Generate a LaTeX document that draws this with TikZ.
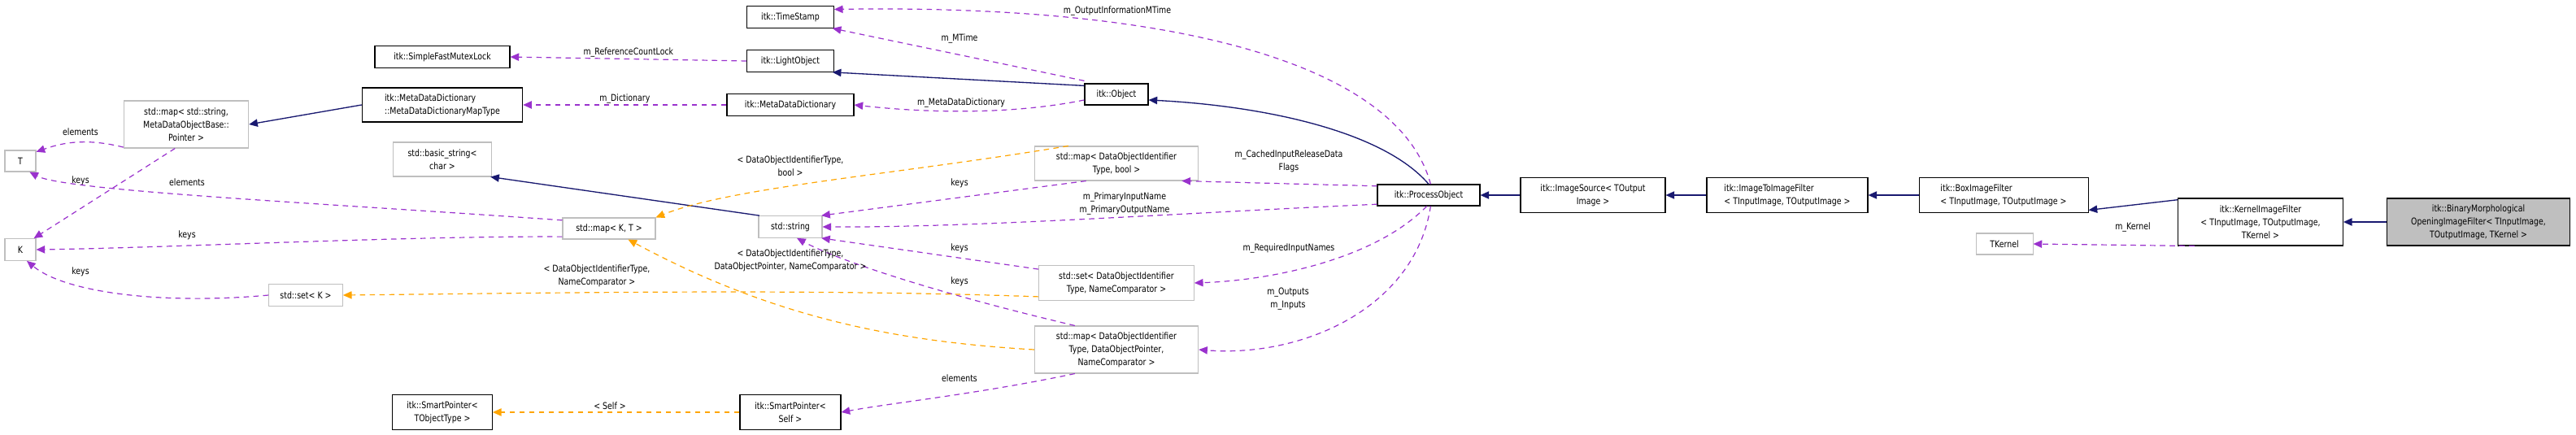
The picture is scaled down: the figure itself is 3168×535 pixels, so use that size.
\documentclass[tikz,border=0pt]{standalone}
\usepackage{fontspec}
\setmainfont{DejaVu Sans}[FakeStretch=0.82]
\usetikzlibrary{arrows.meta}
\definecolor{inhc}{HTML}{191970}
\definecolor{memc}{HTML}{9A32CD}
\definecolor{tplc}{HTML}{FFA500}
\definecolor{grayb}{HTML}{BFBFBF}
\begin{document}
\begin{tikzpicture}[x=0.75pt,y=-0.75pt,
  every node/.style={font=\fontsize{8.6}{12}\selectfont, inner sep=1pt},
  doc/.style={draw=black, line width=0.8pt, fill=white, align=center, inner sep=2pt},
  udoc/.style={draw=grayb, line width=0.8pt, fill=white, align=center, inner sep=2pt},
  inh/.style={draw=inhc, line width=1pt, -{Triangle[width=7pt,length=8pt]}},
  mem/.style={draw=memc, line width=0.9pt, dash pattern=on 5pt off 4pt, -{Triangle[width=7pt,length=8pt]}},
  tpl/.style={draw=tplc, line width=0.9pt, dash pattern=on 5pt off 4pt, -{Triangle[width=7pt,length=8pt]}},
  lbl/.style={align=center, fill=none}]
\useasboundingbox (0,0) rectangle (3168,535);
% nodes
\node[doc, minimum width=124.5pt, minimum height=20pt] (sfml) at (544,70) {itk::SimpleFastMutexLock};
\node[doc, minimum width=148pt, minimum height=31.5pt, align=left] (maptype) at (544,129) {itk::MetaDataDictionary\\::MetaDataDictionaryMapType};
\node[udoc, minimum width=115pt, minimum height=43.5pt] (mapstr) at (229,153) {std::map\textless{} std::string,\\MetaDataObjectBase::\\Pointer \textgreater{}};
\node[udoc, minimum width=28.5pt, minimum height=19.5pt] (T) at (25,198) {T};
\node[udoc, minimum width=28.5pt, minimum height=20pt] (K) at (25,307) {K};
\node[udoc, minimum width=91pt, minimum height=31.5pt] (basic) at (544,196) {std::basic\_string\textless{}\\char \textgreater{}};
\node[udoc, minimum width=85.5pt, minimum height=19.5pt] (mapKT) at (749,281) {std::map\textless{} K, T \textgreater{}};
\node[udoc, minimum width=68pt, minimum height=20pt] (setK) at (376,363) {std::set\textless{} K \textgreater{}};
\node[doc, minimum width=92pt, minimum height=32pt] (spt) at (544,507) {itk::SmartPointer\textless{}\\TObjectType \textgreater{}};
\node[doc, minimum width=80pt, minimum height=20pt] (ts) at (972,21) {itk::TimeStamp};
\node[doc, minimum width=80pt, minimum height=20pt] (light) at (972,75) {itk::LightObject};
\node[doc, minimum width=117pt, minimum height=20pt] (mdd) at (972,129) {itk::MetaDataDictionary};
\node[doc, minimum width=58.5pt, minimum height=19.5pt] (obj) at (1373,116) {itk::Object};
\node[udoc, minimum width=151pt, minimum height=31.5pt] (mapbool) at (1373,201) {std::map\textless{} DataObjectIdentifier\\Type, bool \textgreater{}};
\node[udoc, minimum width=58.5pt, minimum height=20pt] (str) at (972,279) {std::string};
\node[udoc, minimum width=143pt, minimum height=32pt] (setdoi) at (1373,348) {std::set\textless{} DataObjectIdentifier\\Type, NameComparator \textgreater{}};
\node[udoc, minimum width=151pt, minimum height=43.5pt] (mapdop) at (1373,430) {std::map\textless{} DataObjectIdentifier\\Type, DataObjectPointer,\\NameComparator \textgreater{}};
\node[doc, minimum width=93pt, minimum height=32pt] (sps) at (972,507) {itk::SmartPointer\textless{}\\Self \textgreater{}};
\node[doc, minimum width=94.5pt, minimum height=19.5pt] (po) at (1757,240) {itk::ProcessObject};
\node[doc, minimum width=133.5pt, minimum height=32pt] (is) at (1959,240) {itk::ImageSource\textless{} TOutput\\Image \textgreater{}};
\node[doc, minimum width=148.5pt, minimum height=32pt, align=left] (i2i) at (2198,240) {itk::ImageToImageFilter\\\textless{} TInputImage, TOutputImage \textgreater{}};
\node[doc, minimum width=156pt, minimum height=32pt, align=left] (box) at (2464,240) {itk::BoxImageFilter\\\textless{} TInputImage, TOutputImage \textgreater{}};
\node[doc, minimum width=152pt, minimum height=43.5pt] (kern) at (2780,273) {itk::KernelImageFilter\\\textless{} TInputImage, TOutputImage,\\TKernel \textgreater{}};
\node[draw=black, line width=0.8pt, fill=grayb, align=center, inner sep=2pt, minimum width=169pt, minimum height=43.5pt] (bin) at (3048,273) {itk::BinaryMorphological\\OpeningImageFilter\textless{} TInputImage,\\TOutputImage, TKernel \textgreater{}};
\node[udoc, minimum width=52.5pt, minimum height=19.5pt] (tk) at (2465,300) {TKernel};
% inheritance
\draw[inh] (maptype.west) -- (mapstr.east);
\draw[inh] (str.160) -- (basic.-20);
\draw[inh] (obj.165) -- (light.-15);
\draw[inh] (po.north) .. controls (1700,160) and (1550,130) .. (obj.-10);
\draw[inh] (is.west) -- (po.east);
\draw[inh] (i2i.west) -- (is.east);
\draw[inh] (box.west) -- (i2i.east);
\draw[inh] (kern.165) -- (box.-10);
\draw[inh] (bin.west) -- (kern.east);
% members
\draw[mem] (light.west) -- (sfml.east) node[lbl, pos=0.5, above] (l1) {m\_ReferenceCountLock};
\draw[mem] (mdd.west) -- (maptype.east) node[lbl, pos=0.5, above] (l2) {m\_Dictionary};
\draw[mem] (obj.-170) .. controls (1250,140) and (1150,140) .. (mdd.east);
\node[lbl] (l3) at (1182,126) {m\_MetaDataDictionary};
\draw[mem] (obj.165) ++(0,-6) coordinate (oa) (oa) -- (ts.-15);
\node[lbl] (l4) at (1180,47) {m\_MTime};
\draw[mem] (po.80) .. controls (1720,80) and (1450,5) .. (ts.10);
\node[lbl] (l5) at (1374,13) {m\_OutputInformationMTime};
\draw[mem] (po.170) -- (mapbool.-15);
\node[lbl] (l6) at (1585,198) {m\_CachedInputReleaseData\\Flags};
\draw[mem] (po.-170) .. controls (1450,262) and (1200,280) .. (str.east);
\node[lbl] (l7) at (1383,250) {m\_PrimaryInputName\\m\_PrimaryOutputName};
\draw[mem] (po.-100) .. controls (1690,320) and (1560,345) .. (setdoi.east);
\node[lbl] (l8) at (1585,305) {m\_RequiredInputNames};
\draw[mem] (po.-80) .. controls (1740,380) and (1600,440) .. (mapdop.east);
\node[lbl] (l9) at (1584,368) {m\_Outputs\\m\_Inputs};
\draw[mem] (mapbool.-150) -- (str.20);
\node[lbl] (l10) at (1180,225) {keys};
\draw[mem] (setdoi.170) -- (str.-20);
\node[lbl] (l11) at (1180,305) {keys};
\draw[mem] (mapdop.150) .. controls (1150,360) and (1030,320) .. (str.-60);
\node[lbl] (l12) at (1180,346) {keys};
\draw[mem] (mapdop.-150) .. controls (1200,485) and (1100,495) .. (sps.east);
\node[lbl] (l13) at (1180,465) {elements};
\draw[mem] (kern.-160) -- (tk.east);
\node[lbl] (l14) at (2623,279) {m\_Kernel};
\draw[mem] (mapstr.-160) .. controls (100,168) and (70,178) .. (T.30);
\node[lbl] (l15) at (99,162) {elements};
\draw[mem] (mapstr.-115) -- (K.40);
\node[lbl] (l16) at (99,222) {keys};
\draw[mem] (mapKT.170) .. controls (400,250) and (80,235) .. (T.-50);
\node[lbl] (l17) at (230,224) {elements};
\draw[mem] (mapKT.-170) .. controls (500,290) and (200,305) .. (K.east);
\node[lbl] (l18) at (230,289) {keys};
\draw[mem] (setK.west) .. controls (200,375) and (80,360) .. (K.-60);
\node[lbl] (l19) at (99,334) {keys};
% templates
\draw[tpl] (mapbool.160) .. controls (1100,215) and (900,230) .. (mapKT.north east);
\node[lbl] (t1) at (972,204) {\textless{} DataObjectIdentifierType,\\bool \textgreater{}};
\draw[tpl] (mapdop.west) .. controls (1100,420) and (950,390) .. (mapKT.-30);
\node[lbl] (t2) at (972,320) {\textless{} DataObjectIdentifierType,\\DataObjectPointer, NameComparator \textgreater{}};
\draw[tpl] (setdoi.-170) .. controls (1000,355) and (700,360) .. (setK.east);
\node[lbl] (t3) at (734,339) {\textless{} DataObjectIdentifierType,\\NameComparator \textgreater{}};
\draw[tpl] (sps.west) -- (spt.east);
\node[lbl] (t4) at (750,499) {\textless{} Self \textgreater{}};
\end{tikzpicture}
\end{document}
